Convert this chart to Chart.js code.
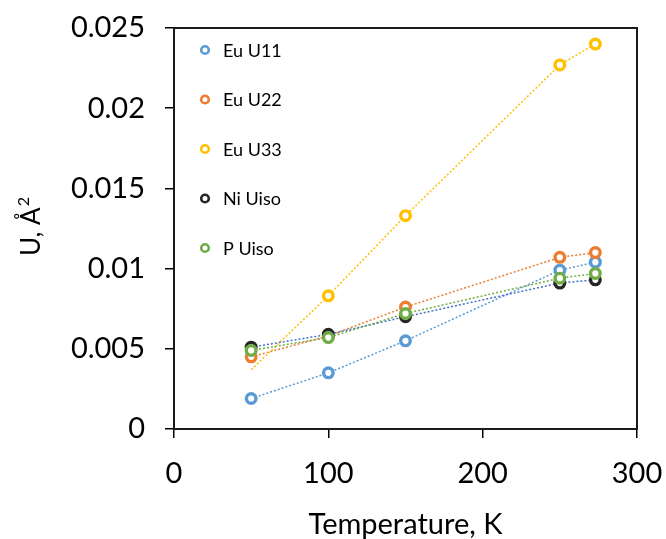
<!DOCTYPE html>
<html>
<head>
<meta charset="utf-8">
<script src="https://cdn.jsdelivr.net/npm/chart.js@4/dist/chart.umd.min.js"></script>
<style>
  html, body { margin: 0; padding: 0; background: #fff; }
  #wrap { width: 666px; height: 539px; }
</style>
</head>
<body>
<div id="wrap"><canvas id="uChart" width="666" height="539"></canvas></div>
<script>
// temperatures, K
const temps = [50, 100, 150, 250, 273];

// displacement parameters, A^2
const euU11 = [0.0019, 0.0035, 0.0055, 0.0099, 0.0104];
const euU22 = [0.0045, 0.0058, 0.0076, 0.0107, 0.0110];
const euU33 = [0.0037, 0.0083, 0.0133, 0.0227, 0.0240];
const niUiso = [0.0051, 0.0059, 0.0070, 0.0091, 0.0093];
const pUiso = [0.0049, 0.0057, 0.0072, 0.0094, 0.0097];

const seriesNames = ["Eu U11", "Eu U22", "Eu U33", "Ni Uiso", "P Uiso"];

const xTicks = [0, 100, 200, 300];
const yTicks = [0, 0.005, 0.01, 0.015, 0.02, 0.025];

const FONT = "Lato, 'Open Sans', sans-serif";

function pts(ys) {
    return temps.map((t, i) => ({ x: t, y: ys[i] }));
}

function series(i, ys, markColor, lineColor, hideFirst) {
    return {
        label: seriesNames[i],
        data: pts(ys),
        showLine: true,
        borderColor: lineColor,
        borderWidth: 1.5,
        borderDash: [2, 2],
        pointBorderColor: markColor,
        pointBackgroundColor: "#fff",
        pointBorderWidth: 3.4,
        pointRadius: hideFirst ? (ctx => ctx.dataIndex === 0 ? 0 : 4.8) : 4.8,
        pointHoverRadius: 4.8,
        order: 10 - i
    };
}

// box around the plot area
const framePlugin = {
    id: "frame",
    afterDatasetsDraw(chart) {
        const a = chart.chartArea;
        const ctx = chart.ctx;
        ctx.save();
        ctx.strokeStyle = "#1a1a1a";
        ctx.lineWidth = 2;
        ctx.strokeRect(a.left, a.top, a.right - a.left, a.bottom - a.top);
        ctx.restore();
    }
};

// legend drawn inside the plot, top left
const innerLegend = {
    id: "innerLegend",
    afterDraw(chart) {
        const a = chart.chartArea;
        const ctx = chart.ctx;
        ctx.save();
        chart.data.datasets.forEach((ds, i) => {
            const cx = a.left + 31;
            const cy = a.top + 22 + i * 49.5;
            ctx.beginPath();
            ctx.arc(cx, cy, 3.8, 0, Math.PI * 2);
            ctx.fillStyle = "#fff";
            ctx.fill();
            ctx.lineWidth = 2.6;
            ctx.strokeStyle = ds.pointBorderColor;
            ctx.stroke();
            ctx.fillStyle = "#000";
            ctx.font = "18px " + FONT;
            ctx.textBaseline = "middle";
            ctx.textAlign = "left";
            ctx.fillText(ds.label, cx + 18, cy + 1);
        });
        ctx.restore();
    }
};

// y axis title with a real superscript 2
const yTitle = {
    id: "yTitle",
    afterDraw(chart) {
        const a = chart.chartArea;
        const ctx = chart.ctx;
        const main = "U, Å";
        const sup = "2";
        ctx.save();
        ctx.translate(40, (a.top + a.bottom) / 2 - 2);
        ctx.rotate(-Math.PI / 2);
        ctx.fillStyle = "#000";
        ctx.textBaseline = "alphabetic";
        ctx.textAlign = "left";
        ctx.font = "26px " + FONT;
        const w1 = ctx.measureText(main).width;
        ctx.font = "16px " + FONT;
        const w2 = ctx.measureText(sup).width;
        const start = -(w1 + w2 + 1) / 2;
        ctx.font = "26px " + FONT;
        ctx.fillText(main, start, 0);
        ctx.font = "16px " + FONT;
        ctx.fillText(sup, start + w1 + 1, -11);
        ctx.restore();
    }
};

const ctx = document.getElementById("uChart").getContext("2d");
new Chart(ctx, {
    type: "scatter",
    data: {
        datasets: [
            series(0, euU11, "#5B9BD5", "#5B9BD5", false),
            series(1, euU22, "#ED7D31", "#ED7D31", false),
            series(2, euU33, "#FFC000", "#FFC000", true),
            series(3, niUiso, "#262626", "#4472C4", false),
            series(4, pUiso, "#70AD47", "#70AD47", false)
        ]
    },
    options: {
        responsive: false,
        animation: false,
        layout: { padding: { top: 28, right: 29, left: 0, bottom: 0 } },
        plugins: {
            legend: { display: false },
            tooltip: { enabled: false }
        },
        scales: {
            x: {
                type: "linear",
                min: 0,
                max: 300,
                afterBuildTicks: s => { s.ticks = xTicks.map(v => ({ value: v })); },
                afterFit: s => { s.height = 110; s.paddingLeft = 0; s.paddingRight = 0; },
                grid: { drawOnChartArea: false, tickLength: 9, color: "#000", lineWidth: 1.5 },
                border: { color: "#000", width: 2 },
                ticks: { color: "#000", padding: 18, font: { family: FONT, size: 29 } },
                title: {
                    display: true,
                    text: "Temperature, K",
                    color: "#000",
                    font: { family: FONT, size: 29, lineHeight: 1 },
                    padding: { top: -5, bottom: 0 }
                }
            },
            y: {
                type: "linear",
                min: 0,
                max: 0.025,
                afterBuildTicks: s => { s.ticks = yTicks.map(v => ({ value: v })); },
                afterFit: s => { s.width = 174; s.paddingTop = 0; s.paddingBottom = 0; },
                grid: { drawOnChartArea: false, tickLength: 9, color: "#000", lineWidth: 1.5 },
                border: { color: "#000", width: 2 },
                ticks: {
                    color: "#000",
                    padding: 20,
                    font: { family: FONT, size: 29 },
                    callback: v => String(+v.toFixed(3))
                },
                title: { display: false }
            }
        }
    },
    plugins: [framePlugin, innerLegend, yTitle]
});
</script>
</body>
</html>
